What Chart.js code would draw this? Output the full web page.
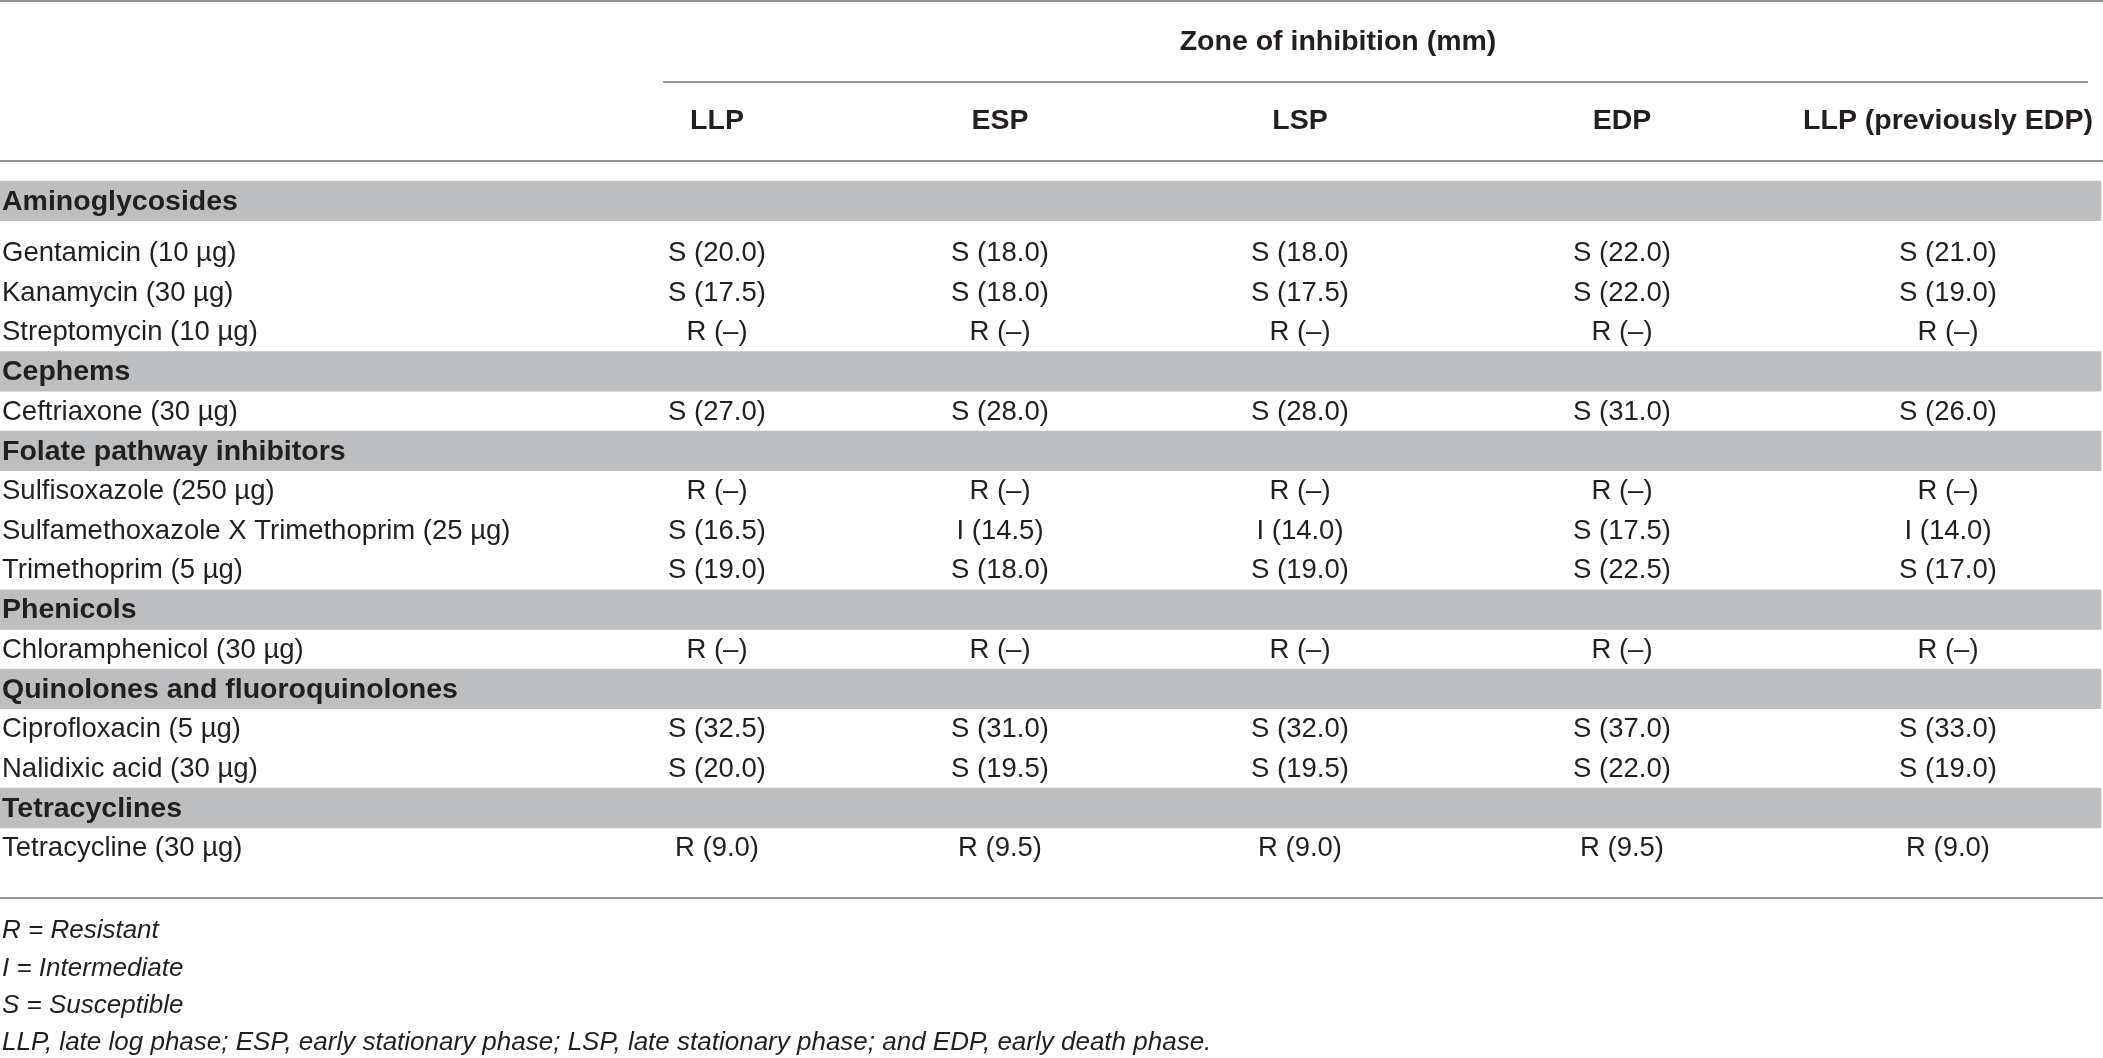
<!DOCTYPE html>
<html>
<head>
<meta charset="utf-8">
<script src="https://cdn.jsdelivr.net/npm/chart.js@4.4.0/dist/chart.umd.min.js"></script>
<style>
  html, body { margin: 0; padding: 0; background: #fff; }
  #wrap { width: 2103px; height: 1058px; }
</style>
</head>
<body>
<div id="wrap"><canvas id="table" width="2103" height="1058"></canvas></div>
<script>
// table content
const spanTitle = 'Zone of inhibition (mm)'
const phases = ['LLP', 'ESP', 'LSP', 'EDP', 'LLP (previously EDP)']
const groups = ['Aminoglycosides', 'Cephems', 'Folate pathway inhibitors', 'Phenicols',
  'Quinolones and fluoroquinolones', 'Tetracyclines']
const antibiotics = ['Gentamicin (10 µg)', 'Kanamycin (30 µg)', 'Streptomycin (10 µg)',
  'Ceftriaxone (30 µg)', 'Sulfisoxazole (250 µg)', 'Sulfamethoxazole X Trimethoprim (25 µg)',
  'Trimethoprim (5 µg)', 'Chloramphenicol (30 µg)', 'Ciprofloxacin (5 µg)',
  'Nalidixic acid (30 µg)', 'Tetracycline (30 µg)']
const groupOf = [0, 0, 0, 1, 2, 2, 2, 3, 4, 4, 5]

// zone diameters (mm), null = no zone
const zoneLLP = [20.0, 17.5, null, 27.0, null, 16.5, 19.0, null, 32.5, 20.0, 9.0]
const zoneESP = [18.0, 18.0, null, 28.0, null, 14.5, 18.0, null, 31.0, 19.5, 9.5]
const zoneLSP = [18.0, 17.5, null, 28.0, null, 14.0, 19.0, null, 32.0, 19.5, 9.0]
const zoneEDP = [22.0, 22.0, null, 31.0, null, 17.5, 22.5, null, 37.0, 22.0, 9.5]
const zoneLLP2 = [21.0, 19.0, null, 26.0, null, 14.0, 17.0, null, 33.0, 19.0, 9.0]

const callLLP = ['S', 'S', 'R', 'S', 'R', 'S', 'S', 'R', 'S', 'S', 'R']
const callESP = ['S', 'S', 'R', 'S', 'R', 'I', 'S', 'R', 'S', 'S', 'R']
const callLSP = ['S', 'S', 'R', 'S', 'R', 'I', 'S', 'R', 'S', 'S', 'R']
const callEDP = ['S', 'S', 'R', 'S', 'R', 'S', 'S', 'R', 'S', 'S', 'R']
const callLLP2 = ['S', 'S', 'R', 'S', 'R', 'I', 'S', 'R', 'S', 'S', 'R']

const footnotes = ['R = Resistant', 'I = Intermediate', 'S = Susceptible',
  'LLP, late log phase; ESP, early stationary phase; LSP, late stationary phase; and EDP, early death phase.']

// layout (row units on y, pixels on x)
const W = 2103, H = 1058
const Y_MIN = -5.06, Y_MAX = 21.6
const ROW_H = H / (Y_MAX - Y_MIN)
const COL_X = [717, 1000, 1300, 1622, 1948]
const GROUP_GAP = 0.3
const TEXT = '#231f20', RULE = '#939598', SHADE = '#bcbec0'
const FONT = '"Liberation Sans", Arial, sans-serif'

const zones = [zoneLLP, zoneESP, zoneLSP, zoneEDP, zoneLLP2]
const calls = [callLLP, callESP, callLSP, callEDP, callLLP2]

// build the row list: a group row in front of each new group
let rows = []
antibiotics.forEach((name, i) => {
  if (i === 0 || groupOf[i] !== groupOf[i - 1]) rows.push({ label: groups[groupOf[i]], group: true })
  rows.push({ label: name, group: false, drug: i })
})
rows.forEach((r, k) => { r.slot = k + (k > 0 ? GROUP_GAP : 0) })

const groupBars = rows.filter(r => r.group).map(r => ({ y: r.slot, x: [0, W - 2] }))
const drugRows = rows.filter(r => !r.group)

const cellSets = phases.map((p, j) => ({
  type: 'scatter',
  label: p,
  data: drugRows.map(r => ({ x: COL_X[j], y: r.slot })),
  pointRadius: 0,
  pointHoverRadius: 0
}))

function cellText(j, i) {
  const z = zones[j][i]
  return calls[j][i] + ' (' + (z === null ? '–' : z.toFixed(1)) + ')'
}

const tableText = {
  id: 'tableText',
  beforeDatasetsDraw(chart) {
    const ctx = chart.ctx, y = chart.scales.y, x = chart.scales.x
    ctx.save()
    ctx.strokeStyle = RULE
    ctx.lineWidth = 2
    const rule = (v, x0, x1) => {
      const py = Math.round(y.getPixelForValue(v))
      ctx.beginPath()
      ctx.moveTo(x.getPixelForValue(x0), py)
      ctx.lineTo(x.getPixelForValue(x1), py)
      ctx.stroke()
    }
    rule(-5.04, 0, W)
    rule(-3, 663, 2088)
    rule(-1, 0, W)
    rule(17.57, 0, W)
    ctx.restore()
  },
  afterDatasetsDraw(chart) {
    const ctx = chart.ctx, y = chart.scales.y, x = chart.scales.x
    ctx.save()
    ctx.fillStyle = TEXT
    ctx.textBaseline = 'middle'

    // column heads
    ctx.font = 'bold 28.5px ' + FONT
    ctx.textAlign = 'center'
    ctx.fillText(spanTitle, x.getPixelForValue(1338), y.getPixelForValue(-4))
    phases.forEach((p, j) => ctx.fillText(p, x.getPixelForValue(COL_X[j]), y.getPixelForValue(-2)))

    // row labels
    ctx.textAlign = 'left'
    rows.forEach(r => {
      ctx.font = (r.group ? 'bold 28.5px ' : '27.5px ') + FONT
      ctx.fillText(r.label, x.getPixelForValue(2), y.getPixelForValue(r.slot) + 1)
    })

    // cells, placed at the scatter points
    ctx.font = '27.5px ' + FONT
    ctx.textAlign = 'center'
    phases.forEach((p, j) => {
      const meta = chart.getDatasetMeta(j + 1)
      meta.data.forEach((pt, k) => ctx.fillText(cellText(j, drugRows[k].drug), pt.x, pt.y + 1))
    })

    // footnotes
    ctx.font = 'italic 26px ' + FONT
    ctx.textAlign = 'left'
    footnotes.forEach((f, k) => ctx.fillText(f, x.getPixelForValue(2), y.getPixelForValue(18.4 + k * 0.94)))
    ctx.restore()
  }
}

new Chart(document.getElementById('table').getContext('2d'), {
  data: {
    datasets: [{
      type: 'bar',
      label: 'groups',
      indexAxis: 'y',
      data: groupBars,
      backgroundColor: SHADE,
      borderWidth: 0,
      borderSkipped: false,
      barThickness: ROW_H
    }, ...cellSets]
  },
  options: {
    responsive: false,
    animation: false,
    devicePixelRatio: 1,
    layout: { padding: 0 },
    events: [],
    plugins: {
      legend: { display: false },
      tooltip: { enabled: false }
    },
    scales: {
      x: { type: 'linear', min: 0, max: W, offset: false, display: false },
      y: { type: 'linear', min: Y_MIN, max: Y_MAX, reverse: true, offset: false, display: false }
    }
  },
  plugins: [tableText]
})
</script>
</body>
</html>
